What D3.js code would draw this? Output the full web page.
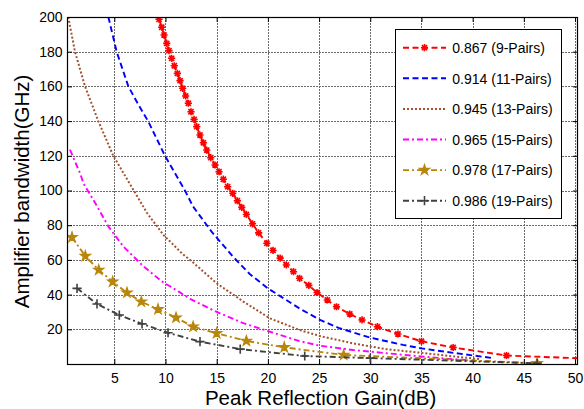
<!DOCTYPE html>
<html>
<head>
<meta charset="utf-8">
<script src="https://cdn.jsdelivr.net/npm/d3@7"></script>
<style>
  body { margin: 0; background: #fff; }
  svg { display: block; }
  text { font-family: "Liberation Sans", Arial, sans-serif; fill: #000; }
</style>
</head>
<body>
<svg id="chart" width="584" height="409"></svg>
<script>
// Tick values
const xTicks = [5, 10, 15, 20, 25, 30, 35, 40, 45, 50];
const yTicks = [20, 40, 60, 80, 100, 120, 140, 160, 180, 200];

// Legend labels: peak reflectivity (number of mirror pairs)
const legendLabels = [
  "0.867 (9-Pairs)", "0.914 (11-Pairs)", "0.945 (13-Pairs)",
  "0.965 (15-Pairs)", "0.978 (17-Pairs)", "0.986 (19-Pairs)"
];

// [peak reflection gain (dB), amplifier bandwidth (GHz)]
const pairs9 = [
  [9.37, 198.7], [9.63, 194.1], [9.86, 189.6], [10.12, 184.8], [10.34, 180.6],
  [10.6, 176.2], [10.86, 171.9], [11.16, 167.5], [11.42, 163.3], [11.68, 158.9],
  [11.97, 154.5], [12.23, 150.3], [12.49, 145.4], [12.79, 141.0], [13.05, 136.8],
  [13.37, 132.0], [13.7, 127.5], [14.03, 123.3], [14.42, 118.9], [14.84, 114.7],
  [15.23, 110.8], [15.65, 106.5], [16.07, 102.2], [16.57, 98.4], [17.02, 94.1],
  [17.45, 90.3], [17.9, 86.2], [18.5, 80.8], [19.1, 75.6], [19.9, 69.6],
  [20.5, 65.5], [21.2, 61.0], [21.8, 57.1], [22.5, 53.2], [23.1, 49.4],
  [24.0, 45.3], [24.8, 41.2], [25.8, 36.9], [26.7, 33.0], [28.0, 28.8],
  [29.2, 25.4], [30.7, 21.5], [32.7, 17.3], [35.0, 13.1], [38.1, 9.5],
  [43.3, 4.9], [50.3, 3.3]
];
const pairs11 = [
  [4.42, 200], [5.23, 180], [6.37, 160], [7.4, 149], [8.3, 140], [9.95, 120],
  [11.9, 100], [12.7, 90.7], [14.5, 76.3], [16.6, 61.8], [18.2, 52], [20.0, 43.6],
  [23.1, 32.0], [25.1, 25.4], [26.9, 20.8], [30.0, 15.2], [33.2, 11.0],
  [35.0, 9.0], [38.4, 6.2], [42.1, 3.3]
];
const pairs13 = [
  [0.5, 200], [1.16, 180], [2.14, 160], [3.44, 140], [4.9, 120], [6.9, 100],
  [8.2, 87], [9.8, 74.4], [11.6, 63.8], [12.6, 59], [15.0, 46.5], [17.6, 36],
  [20.2, 26.3], [23.1, 19.6], [25.1, 16.1], [28.3, 11.9], [31.6, 8.5],
  [34.9, 6.5], [38.4, 4.2], [40.7, 2.8]
];
const pairs15 = [
  [0.67, 123.5], [1.65, 110], [2.0, 104], [3.15, 92.6], [4.45, 79], [5.9, 67.6],
  [7.9, 56], [9.7, 47.4], [11.3, 41.7], [12.4, 37.5], [15.0, 30], [17.6, 23.5],
  [20.2, 18.6], [23.1, 13.2], [25.1, 10.5], [28.3, 8.1], [31.6, 6.2],
  [34.9, 4.4], [38.1, 2.8], [39.5, 2.3]
];
const pairs17 = [
  [0.87, 73.0], [2.17, 62.2], [3.48, 54.2], [4.84, 47.4], [6.24, 41.1],
  [7.64, 35.9], [9.27, 31.5], [11.03, 26.7], [12.7, 21.5], [15.0, 17.7],
  [17.9, 13.3], [21.6, 9.6], [27.4, 5.2], [46.3, 0.4]
];
const pairs19 = [
  [1.36, 43.6], [3.31, 34.6], [5.49, 28.2], [7.71, 23.1], [10.25, 18.0],
  [13.37, 12.9], [17.3, 8.6], [23.6, 4.6], [30.0, 3.4], [46.3, 0.4]
];

const seriesData = [pairs9, pairs11, pairs13, pairs15, pairs17, pairs19];

// Line and marker styling per series
const styles = [
  { color: "#ff0000", dash: "6,3.5", width: 1.9, marker: "asterisk" },
  { color: "#0000ff", dash: "6,3.5", width: 1.9, marker: null },
  { color: "#a0522d", dash: "2,2", width: 2, marker: null },
  { color: "#ff00ff", dash: "6,3,2,3", width: 1.9, marker: null },
  { color: "#b8860b", dash: "6,3,2,3", width: 1.9, marker: "star" },
  { color: "#404040", dash: "6,3,2,3", width: 1.9, marker: "plus" }
];

const plot = { left: 67, right: 578, top: 17, bottom: 364 };

const x = d3.scaleLinear().domain([0.38, 50.29]).range([plot.left, plot.right]);
const y = d3.scaleLinear().domain([0, 200]).range([plot.bottom, plot.top]);

const svg = d3.select("#chart");

svg.append("defs").append("clipPath").attr("id", "plot-clip")
  .append("rect")
  .attr("x", plot.left).attr("y", plot.top)
  .attr("width", plot.right - plot.left).attr("height", plot.bottom - plot.top);

// Grid
const grid = svg.append("g").attr("stroke", "#6a6a6a").attr("stroke-width", 1)
  .attr("stroke-dasharray", "2,1").attr("shape-rendering", "crispEdges");
grid.selectAll("line.vx").data(xTicks.filter(d => x(d) < plot.right - 1)).join("line")
  .attr("x1", d => Math.round(x(d)) + 0.5).attr("x2", d => Math.round(x(d)) + 0.5)
  .attr("y1", plot.top).attr("y2", plot.bottom);
grid.selectAll("line.hy").data(yTicks.filter(d => y(d) > plot.top + 1)).join("line")
  .attr("y1", d => Math.round(y(d)) + 0.5).attr("y2", d => Math.round(y(d)) + 0.5)
  .attr("x1", plot.left).attr("x2", plot.right);

// Axes with inward ticks
const tickFont = 14;
const xAxis = svg.append("g").attr("transform", `translate(0,${plot.bottom})`)
  .call(d3.axisBottom(x).tickValues(xTicks).tickSize(-5).tickPadding(9));
const xTop = svg.append("g").attr("transform", `translate(0,${plot.top})`)
  .call(d3.axisTop(x).tickValues(xTicks).tickSize(-5).tickFormat(""));
const yAxis = svg.append("g").attr("transform", `translate(${plot.left},0)`)
  .call(d3.axisLeft(y).tickValues(yTicks).tickSize(-5).tickPadding(4.5));
const yRight = svg.append("g").attr("transform", `translate(${plot.right},0)`)
  .call(d3.axisRight(y).tickValues(yTicks).tickSize(-5).tickFormat(""));
[xAxis, xTop, yAxis, yRight].forEach(g => {
  g.select(".domain").remove();
  g.selectAll("line").attr("stroke", "#000");
  g.selectAll("text").attr("font-size", tickFont)
    .attr("font-family", "'Liberation Sans', Arial, sans-serif").attr("fill", "#000");
});

// Curves
const line = d3.line().x(d => x(d[0])).y(d => y(d[1]));
const curves = svg.append("g").attr("clip-path", "url(#plot-clip)");

function markerPath(type) {
  if (type === "asterisk") {
    const s = 3.6, t = 2.6;
    return `M${-s},0L${s},0M0,${-s}L0,${s}M${-t},${-t}L${t},${t}M${-t},${t}L${t},${-t}`;
  }
  if (type === "plus") {
    const s = 4.6;
    return `M${-s},0L${s},0M0,${-s}L0,${s}`;
  }
  return d3.symbol(d3.symbolStar, 32)();
}

function drawMarker(g, type, color, px, py) {
  const p = g.append("path").attr("d", markerPath(type))
    .attr("transform", `translate(${px},${py})`);
  if (type === "star") {
    p.attr("fill", color).attr("stroke", color).attr("stroke-width", 1.2);
  } else {
    p.attr("fill", "none").attr("stroke", color).attr("stroke-width", 1.6);
  }
}

seriesData.forEach((data, i) => {
  const st = styles[i];
  curves.append("path").datum(data)
    .attr("fill", "none").attr("stroke", st.color).attr("stroke-width", st.width)
    .attr("stroke-dasharray", st.dash).attr("d", line);
  if (st.marker) {
    const mg = curves.append("g");
    data.filter(d => d[0] <= 50).forEach(d => drawMarker(mg, st.marker, st.color, x(d[0]), y(d[1])));
  }
});

// Plot frame
svg.append("rect")
  .attr("x", plot.left + 0.5).attr("y", plot.top + 0.5)
  .attr("width", plot.right - plot.left - 1).attr("height", plot.bottom - plot.top)
  .attr("fill", "none").attr("stroke", "#000").attr("stroke-width", 1.2);

// Legend
const lg = svg.append("g");
lg.append("rect").attr("x", 395.5).attr("y", 29.5).attr("width", 166).attr("height", 189)
  .attr("fill", "#fff").attr("stroke", "#000").attr("stroke-width", 1);
legendLabels.forEach((lab, i) => {
  const st = styles[i];
  const ly = 47.7 + i * 30.6;
  lg.append("line").attr("x1", 403).attr("x2", 446).attr("y1", ly).attr("y2", ly)
    .attr("stroke", st.color).attr("stroke-width", st.width).attr("stroke-dasharray", st.dash);
  if (st.marker) drawMarker(lg, st.marker, st.color, 424.5, ly);
  lg.append("text").attr("x", 452.3).attr("y", ly + 5.2).attr("font-size", 14).text(lab);
});

// Axis titles
svg.append("text").attr("x", 320.6).attr("y", 404.5).attr("text-anchor", "middle")
  .attr("font-size", 20.5).text("Peak Reflection Gain(dB)");
svg.append("text").attr("transform", "translate(28.5,191.4) rotate(-90)")
  .attr("text-anchor", "middle").attr("font-size", 20.5).text("Amplifier bandwidth(GHz)");
</script>
</body>
</html>
